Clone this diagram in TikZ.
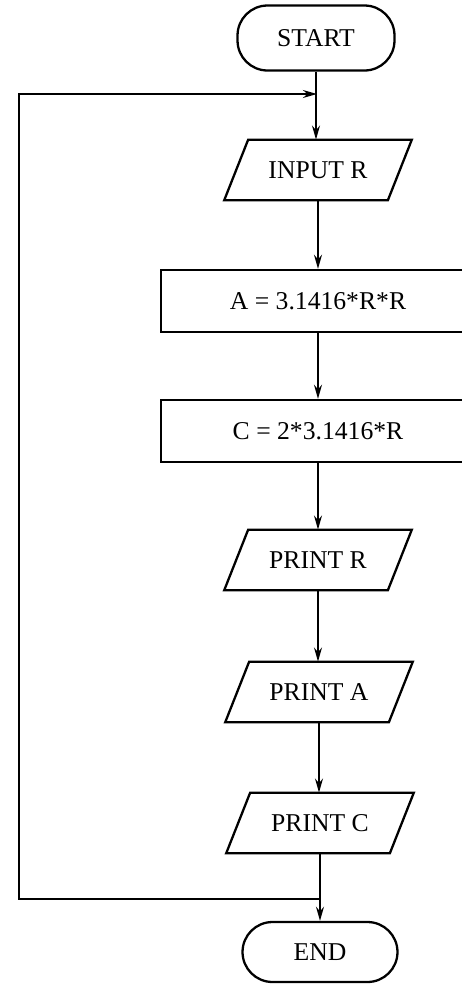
\documentclass[tikz,border=0pt]{standalone}
\usepackage{fontspec}
\setmainfont{Liberation Serif}
\usetikzlibrary{arrows.meta,calc}
\begin{document}
\begin{tikzpicture}[x=0.02cm,y=-0.02cm,
  every node/.style={font=\fontsize{14.6}{17}\selectfont, inner sep=0pt},
  line/.style={line width=1.3pt},
  arr/.style={line width=1.2pt,-{Stealth[length=8pt,width=4.5pt]}},
  term/.style={draw,line width=1.3pt,rounded corners=0.6cm,minimum width=3.14cm,minimum height=1.3cm},
  procbox/.style={draw,line width=1.3pt,minimum width=6.28cm,minimum height=1.24cm},
  iobox/.style={minimum width=3.74cm,minimum height=1.2cm}]
\useasboundingbox (0,0) rectangle (462,984);
\clip (0,0) rectangle (462,984);
\node[term] (start) at (316,38) {START};
\node[iobox] (in) at (318,170) {INPUT R};
\node[procbox] (a) at (318,301) {A = 3.1416*R*R};
\node[procbox] (c) at (318,431) {C = 2*3.1416*R};
\node[iobox] (pr) at (318,560) {PRINT R};
\node[iobox] (pa) at (319,692) {PRINT A};
\node[iobox] (pc) at (320,823) {PRINT C};
\node[term,minimum width=3.1cm,minimum height=1.2cm] (end) at (320,952) {END};
\foreach \n in {in,pr,pa,pc}{
  \draw[line,line join=miter] ($(\n.north west)+(24,0)$) -- (\n.north east) -- ($(\n.south east)+(-24,0)$) -- (\n.south west) -- cycle;
}
\coordinate (jtop) at (317,94);
\coordinate (jbot) at (320,899);
\coordinate (ltop) at (19,94);
\coordinate (lbot) at (19,899);
\draw[arr] (start.south) -- (start.south |- in.north);
\draw[arr] (in.south) -- (in.south |- a.north);
\draw[arr] (a.south) -- (c.north);
\draw[arr] (c.south) -- (c.south |- pr.north);
\draw[arr] (pr.south) -- (pr.south |- pa.north);
\draw[arr] (pa.south) -- (pa.south |- pc.north);
\draw[arr] (pc.south) -- (end.north);
\draw[arr] (jbot) -- (lbot) -- (ltop) -- (jtop);
\end{tikzpicture}
\end{document}
